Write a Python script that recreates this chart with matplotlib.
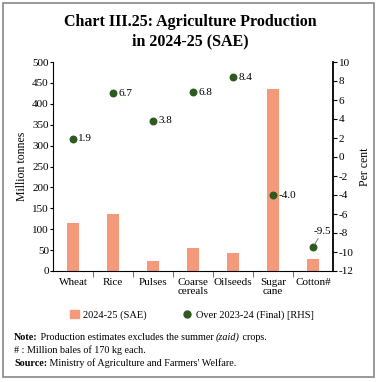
import matplotlib
matplotlib.use("Agg")
import matplotlib.pyplot as plt
from matplotlib.patches import Rectangle
from matplotlib.lines import Line2D
import numpy as np

categories = ["Wheat", "Rice", "Pulses", "Coarse\ncereals", "Oilseeds", "Sugar\ncane", "Cotton#"]
production = [115, 136, 23, 56, 42, 435, 29]
growth = [1.9, 6.7, 3.8, 6.8, 8.4, -4.0, -9.5]
growth_labels = ["1.9", "6.7", "3.8", "6.8", "8.4", "-4.0", "-9.5"]
left_ticks = list(range(0, 501, 50))
right_ticks = list(range(-12, 11, 2))

bar_color = "#F4997A"
dot_color = "#2D5A1E"
serif = ["Liberation Serif", "DejaVu Serif"]
plt.rcParams['font.family'] = serif
plt.rcParams['axes.unicode_minus'] = False

fig = plt.figure(figsize=(3.8, 3.82), dpi=100)
fig.patches.append(Rectangle((0.008, 0.013), 0.976, 0.978, transform=fig.transFigure,
                             fill=False, edgecolor="#888888", linewidth=1.2))

fig.text(0.5, 1-32/382, "Chart III.25: Agriculture Production\nin 2024-25 (SAE)", ha="center", va="center",
         fontsize=11.5, fontweight="bold", linespacing=1.3)

ax = fig.add_axes([53/380, 1-271/382, 280/380, 209/382])
x = np.arange(len(categories))
ax.bar(x, production, width=0.32, color=bar_color, zorder=2)
ax.set_xlim(-0.5, len(categories)-0.5)
ax.set_ylim(0, 500)
ax.set_yticks(left_ticks)
ax.tick_params(axis="y", labelsize=8, length=2, pad=1)
ax.set_xticks(x)
ax.set_xticklabels(categories, fontsize=8, linespacing=1.0)
ax.tick_params(axis="x", which="major", length=0, pad=5)
ax.set_xticks(np.arange(0.5, len(categories)-0.5, 1), minor=True)
ax.tick_params(axis="x", which="minor", length=4, direction="out", color="#555555")
ax.set_ylabel("Million tonnes", fontsize=8.5, labelpad=3)
for s in ["top", "right"]:
    ax.spines[s].set_visible(False)

ax2 = ax.twinx()
ax2.set_ylim(-12, 10)
ax2.set_yticks(right_ticks)
ax2.tick_params(axis="y", labelsize=8, length=3, pad=1)
ax2.scatter(x, growth, s=22, color=dot_color, zorder=3)
for i, (g, lab) in enumerate(zip(growth, growth_labels)):
    if i == len(categories) - 1:
        ax2.annotate(lab, xy=(x[i], g), xytext=(x[i]+0.02, g+1.7), fontsize=8,
                     ha="left", va="center",
                     arrowprops=dict(arrowstyle="-", color="#666666", lw=0.6, shrinkA=0, shrinkB=2))
    else:
        ax2.text(x[i]+0.13, g, lab, fontsize=8, ha="left", va="center")
ax2.set_ylabel("Per cent", fontsize=8.5, labelpad=4)
ax2.spines["right"].set_linewidth(1.3)
for s in ["top", "left", "bottom"]:
    ax2.spines[s].set_visible(False)

handles = [Rectangle((0, 0), 1, 1, color=bar_color),
           Line2D([], [], marker="o", color=dot_color, linestyle="none", markersize=5)]
fig.legend(handles, ["2024-25 (SAE)", "Over 2023-24 (Final) [RHS]"], loc="center",
           bbox_to_anchor=(0.505, 1-315/382), ncol=2, frameon=False, fontsize=7.5,
           handlelength=0.8, handletextpad=0.4, columnspacing=3.5)


def draw_chain(y, parts, fs=7.3):
    fig.canvas.draw()
    renderer = fig.canvas.get_renderer()
    xpos = 14
    for txt, style in parts:
        kw = dict(fontsize=fs, va="baseline", ha="left")
        if style == "b":
            kw["fontweight"] = "bold"
        elif style == "i":
            kw["fontstyle"] = "italic"
        t = fig.text(xpos/380, 1-y/382, txt, **kw)
        bb = t.get_window_extent(renderer=renderer)
        xpos = bb.x1


draw_chain(340, [("Note:", "b"), (" Production estimates excludes the summer ", "r"),
                 ("(zaid)", "i"), (" crops.", "r")])
draw_chain(353, [("# : Million bales of 170 kg each.", "r")])
draw_chain(366, [("Source:", "b"), (" Ministry of Agriculture and Farmers' Welfare.", "r")])

fig.savefig("out.png", dpi=100)
